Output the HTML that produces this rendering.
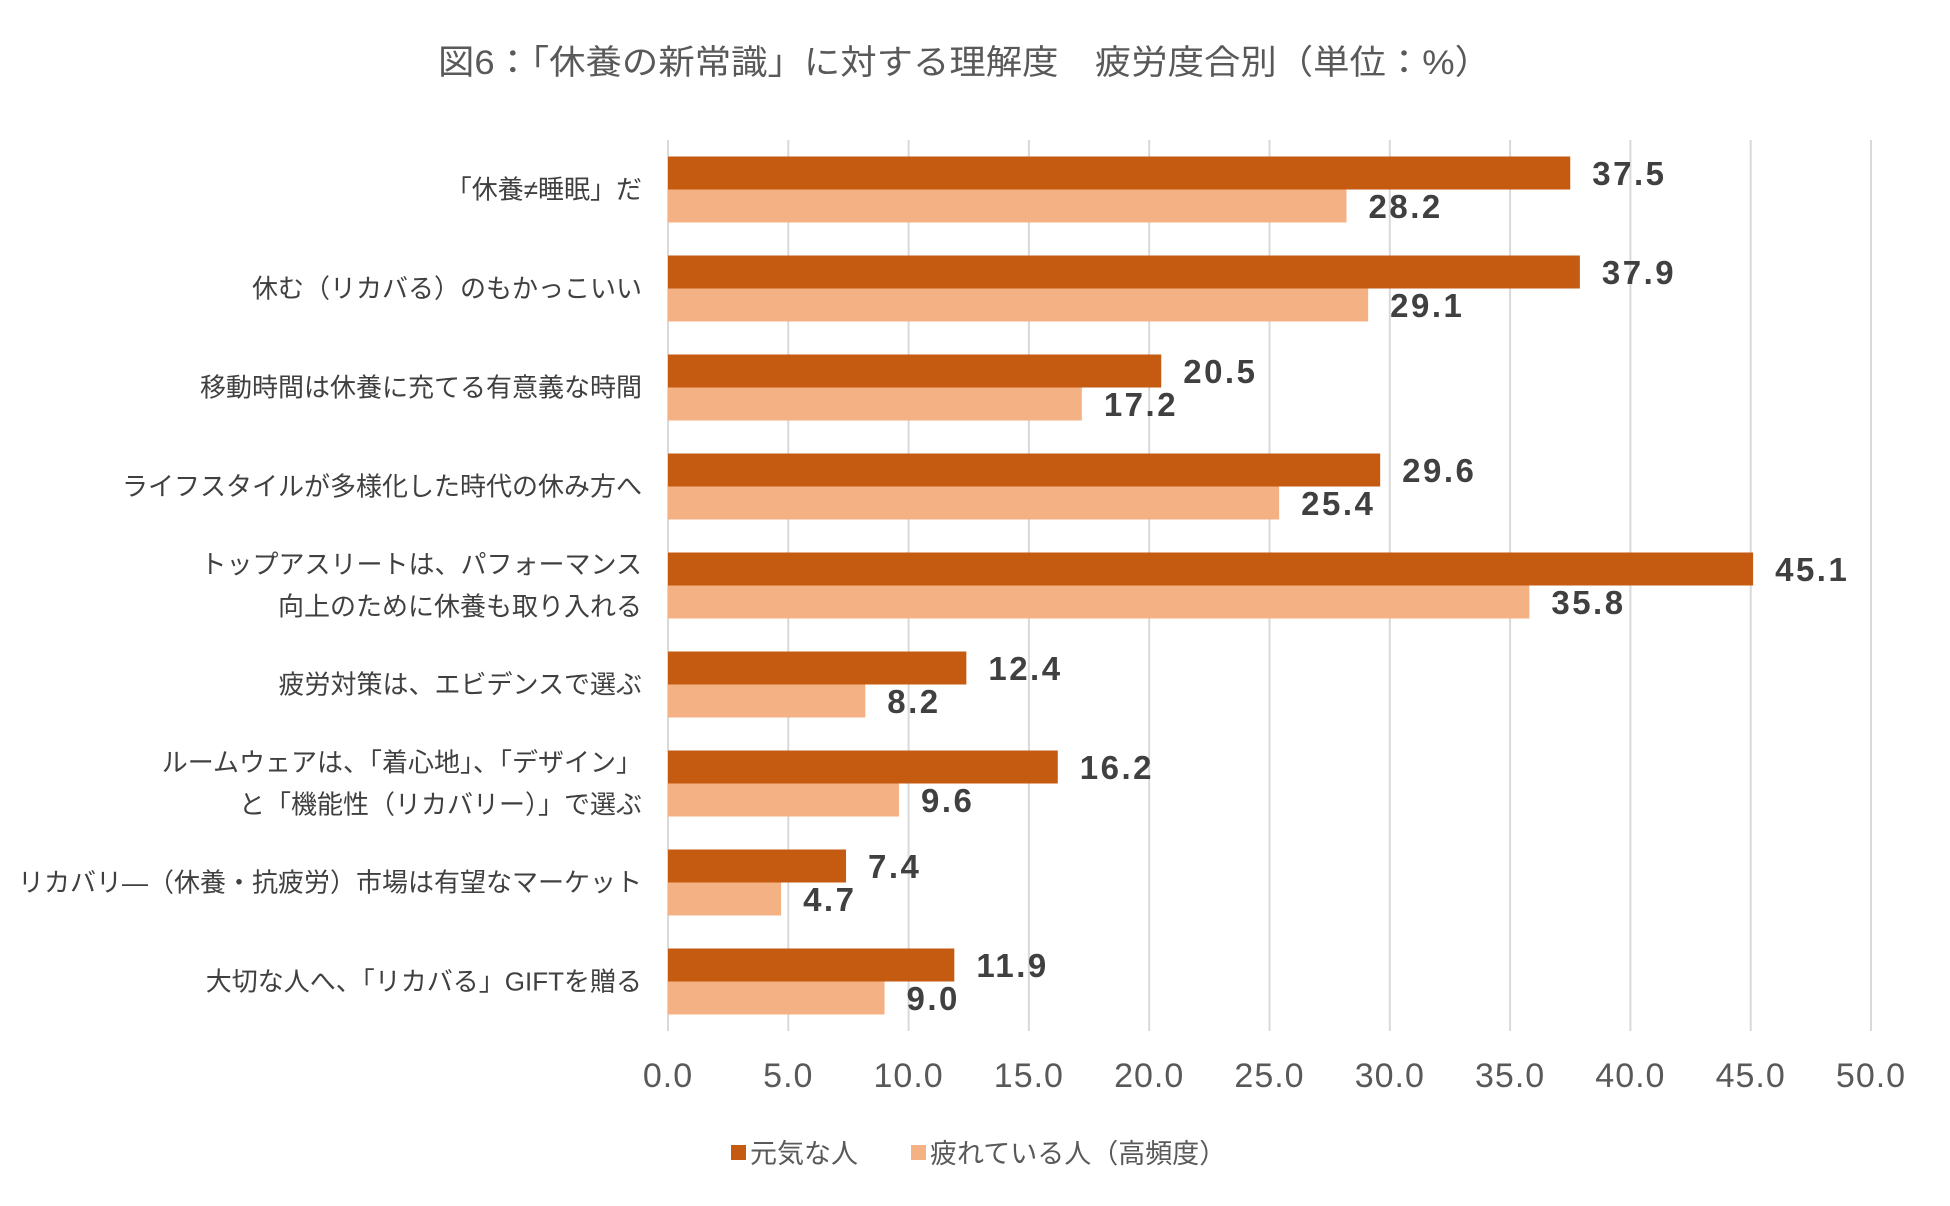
<!DOCTYPE html>
<html><head><meta charset="utf-8"><style>
html,body{margin:0;padding:0;background:#fff;}
svg text{font-family:"Liberation Sans","Noto Sans CJK JP",sans-serif;}
</style></head><body>
<svg id="chart" width="1950" height="1201" viewBox="0 0 1950 1201" xmlns="http://www.w3.org/2000/svg">
<rect width="1950" height="1201" fill="#fff"/>
<text x="438" y="74" font-size="34" fill="#595959" textLength="1053" lengthAdjust="spacingAndGlyphs">図6：「休養の新常識」に対する理解度　疲労度合別（単位：%）</text>
<g id="grid"></g><g id="bars"></g><g id="labels"></g><g id="ticks"></g>
<g>
<rect x="731" y="1145" width="15" height="15" fill="#C55A11"/>
<text x="750" y="1163" font-size="27" fill="#595959">元気な人</text>
<rect x="911" y="1145" width="15" height="15" fill="#F4B183"/>
<text x="930" y="1163" font-size="27" fill="#595959">疲れている人（高頻度）</text>
</g>
</svg>
<script>
const categories = [["「休養≠睡眠」だ"],["休む（リカバる）のもかっこいい"],["移動時間は休養に充てる有意義な時間"],["ライフスタイルが多様化した時代の休み方へ"],["トップアスリートは、パフォーマンス","向上のために休養も取り入れる"],["疲労対策は、エビデンスで選ぶ"],["ルームウェアは、「着心地」、「デザイン」","と「機能性（リカバリー）」で選ぶ"],["リカバリ―（休養・抗疲労）市場は有望なマーケット"],["大切な人へ、「リカバる」GIFTを贈る"]];
const genki = [37.5,37.9,20.5,29.6,45.1,12.4,16.2,7.4,11.9];
const tired = [28.2,29.1,17.2,25.4,35.8,8.2,9.6,4.7,9.0];
const ticks = [0,5,10,15,20,25,30,35,40,45,50];
const NS="http://www.w3.org/2000/svg";
const x0=668,x1=1871,plotTop=140,plotBot=1031,band=(plotBot-plotTop)/categories.length,bh=33;
const xs=v=>x0+(v/50)*(x1-x0);
function mk(tag,attrs,parent,txt){const e=document.createElementNS(NS,tag);for(const k in attrs)e.setAttribute(k,attrs[k]);if(txt!==undefined)e.textContent=txt;document.getElementById(parent).appendChild(e);return e;}
ticks.forEach((t,i)=>{
  const g=mk('line',{x1:xs(t),x2:xs(t),y1:plotTop,y2:plotBot,stroke:'#d9d9d9','stroke-width':2},'grid');
  
  
  const l=mk('text',{x:xs(t),y:1087,'font-size':34,'letter-spacing':1,fill:'#595959','text-anchor':'middle'},'ticks',t.toFixed(1));
  
  
});
categories.forEach((c,i)=>{
  const y=plotTop+i*band+(band-2*bh)/2;
  const b1=mk('rect',{x:x0,y:y,width:xs(genki[i])-x0,height:bh,fill:'#C55A11'},'bars');
  
  
  const b2=mk('rect',{x:x0,y:y+bh,width:xs(tired[i])-x0,height:bh,fill:'#F4B183'},'bars');
  
  
  const v1=mk('text',{x:xs(genki[i])+22,y:y+bh/2+12,'font-size':33,'letter-spacing':2.5,'font-weight':'bold',fill:'#404040'},'labels',genki[i].toFixed(1));
  
  
  const v2=mk('text',{x:xs(tired[i])+22,y:y+bh*1.5+12,'font-size':33,'letter-spacing':2.5,'font-weight':'bold',fill:'#404040'},'labels',tired[i].toFixed(1));
  
  
  const cy=plotTop+i*band+band/2;
  c.forEach((line,j)=>{
    const yy=cy+(j-(c.length-1)/2)*42+9;
    const t=mk('text',{x:642,y:yy,'font-size':26,fill:'#404040','text-anchor':'end'},'labels',line);
    
    
  });
});
</script>
</body></html>
